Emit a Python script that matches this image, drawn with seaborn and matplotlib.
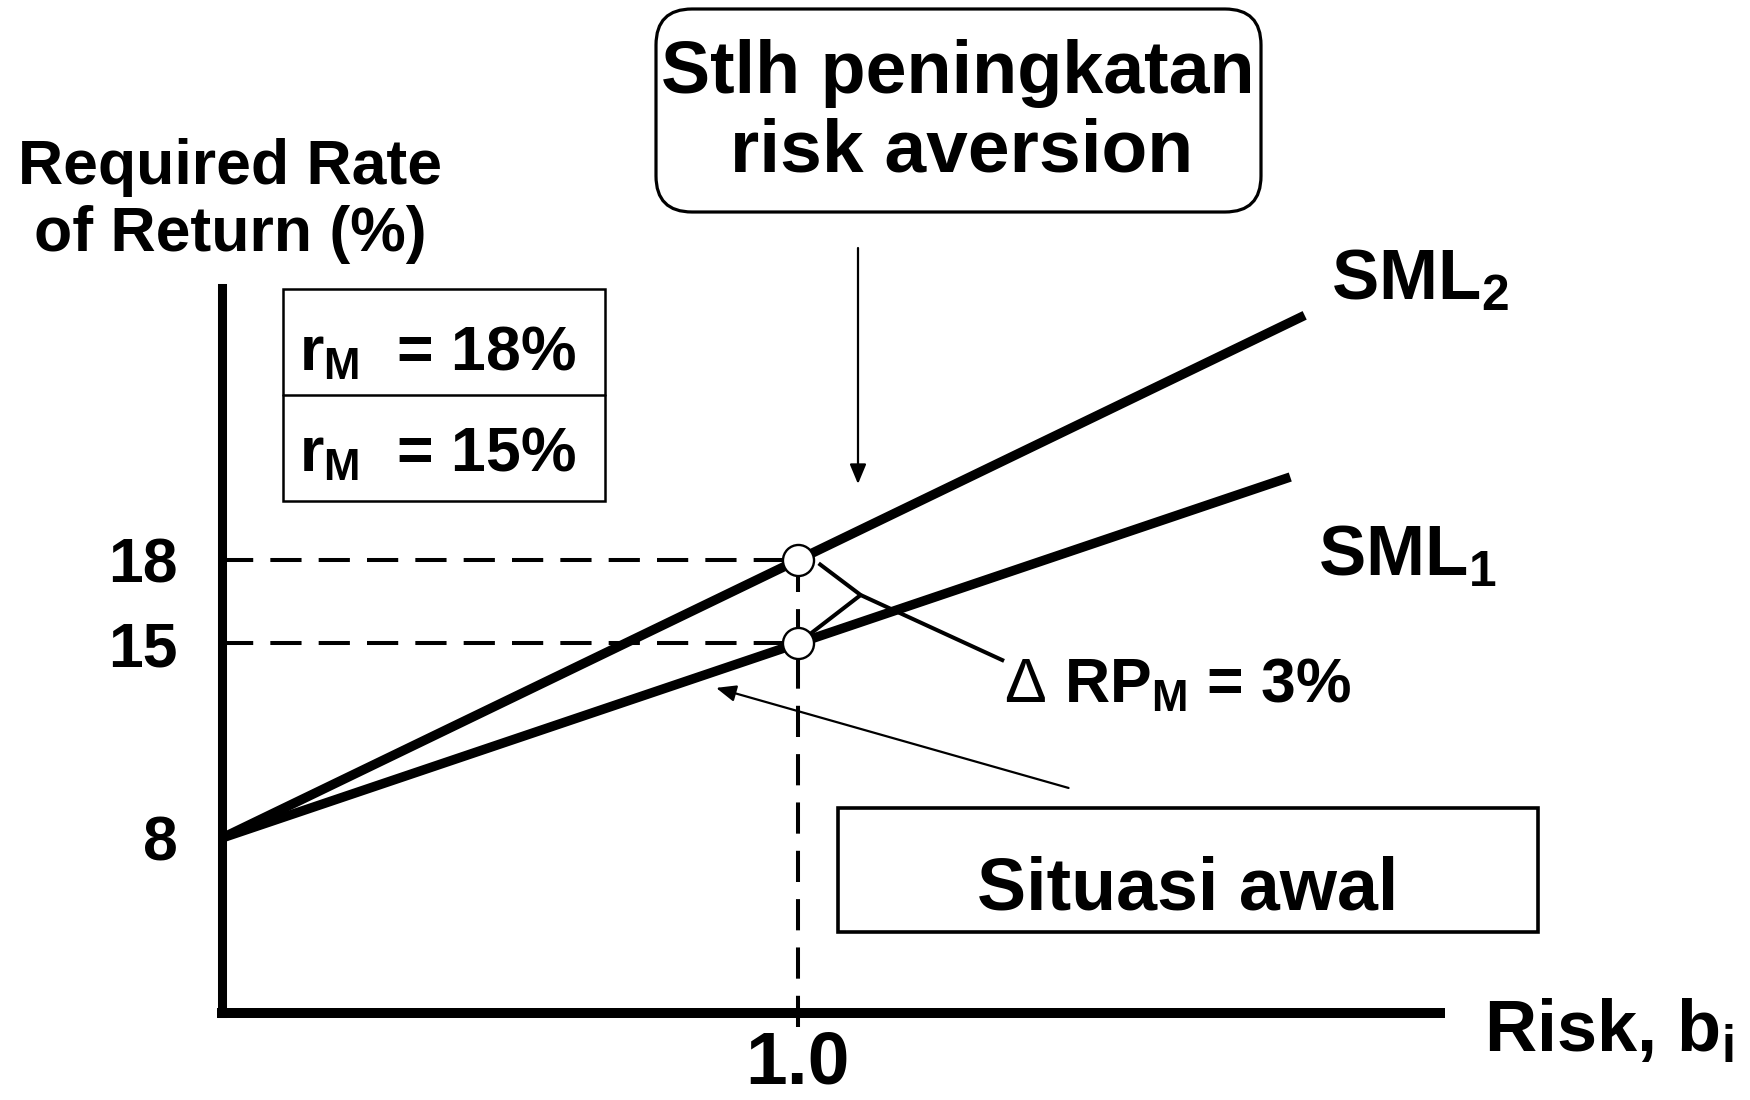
import matplotlib
matplotlib.use("Agg")
import matplotlib.pyplot as plt
from matplotlib.patches import FancyBboxPatch, Rectangle
from matplotlib.lines import Line2D
import seaborn as sns
import pandas as pd

# ---- values -------------------------------------------------------------
risk_free = 8                      # r_RF (%)
market_beta = 1.0                  # beta of the market portfolio
sml_names = ["SML1", "SML2"]       # before / after the rise in risk aversion
market_returns = [15, 18]          # r_M on each line (%)
line_end_beta = [1.855, 1.88]      # how far each line is drawn
y_ticks = [8, 15, 18]
x_ticks = [1.0]
x_tick_labels = ["1.0"]
delta_rp = market_returns[1] - market_returns[0]

# ---- style --------------------------------------------------------------
sns.set_theme(style="white")
plt.rcParams["font.family"] = ["Liberation Sans", "DejaVu Sans"]
plt.rcParams["font.weight"] = "bold"
plt.rcParams["text.color"] = "black"
plt.rcParams["axes.labelcolor"] = "black"
plt.rcParams["xtick.color"] = "black"
plt.rcParams["ytick.color"] = "black"
plt.rcParams["mathtext.fontset"] = "custom"
plt.rcParams["mathtext.rm"] = "Liberation Sans:bold"
plt.rcParams["mathtext.it"] = "Liberation Sans:bold"
plt.rcParams["mathtext.bf"] = "Liberation Sans:bold"

W, H = 1750, 1100
fig = plt.figure(figsize=(W / 100, H / 100), dpi=100)
fig.patch.set_facecolor("white")
ax = fig.add_axes([222 / W, 1 - 1013 / H, (1440 - 222) / W, (1013 - 288) / H])
ax.set_facecolor("white")


def P(px, py):
    """pixel position (from top-left) -> inches for fig.dpi_scale_trans"""
    return px / 100, (H - py) / 100


T = fig.dpi_scale_trans

# ---- security market lines ---------------------------------------------
rows = []
for name, rm, b_end in zip(sml_names, market_returns, line_end_beta):
    for b in (0.0, b_end):
        rows.append({"line": name, "beta": b,
                     "ret": risk_free + (rm - risk_free) * b})
sml = pd.DataFrame(rows)

sns.lineplot(data=sml, x="beta", y="ret", hue="line", units="line",
             estimator=None, palette=["black", "black"], linewidth=6.8,
             legend=False, ax=ax, zorder=4)
for ln in ax.lines:
    ln.set_solid_capstyle("butt")

# dashed guides to the market points
dash = (0, (7.75, 4.25))
for rm in market_returns:
    ax.plot([0, market_beta], [rm, rm], color="black", lw=2.9,
            linestyle=dash, zorder=2)
ax.plot([market_beta, market_beta], [1.2, max(market_returns)],
        color="black", lw=2.9, linestyle=dash, zorder=2, clip_on=False)

# market points
pts = pd.DataFrame({"beta": [market_beta] * len(market_returns),
                    "ret": market_returns})
sns.scatterplot(data=pts, x="beta", y="ret", s=500, color="white",
                edgecolor="black", linewidth=1.7, zorder=6, ax=ax,
                legend=False)

# bracket joining the two market points to the risk-premium label
junction = (1.109, 16.74)
ax.plot([1.036, junction[0], 1.022], [17.88, junction[1], 15.35],
        color="black", lw=2.9, zorder=5, solid_capstyle="butt")
ax.plot([junction[0], 1.358], [junction[1], 14.37],
        color="black", lw=2.9, zorder=5, solid_capstyle="butt")

# arrow pointing at the original line
ax.annotate("", xy=(0.858, 13.4), xytext=(1.47, 9.8),
            arrowprops=dict(arrowstyle="-|>,head_length=0.6,head_width=0.25",
                            color="black", lw=1.6, mutation_scale=20,
                            shrinkA=0, shrinkB=0), zorder=5)

# ---- axes ---------------------------------------------------------------
ax.set_xlim(0, 2.115)
ax.set_ylim(1.705, 27.784)
ax.set_xticks(x_ticks)
ax.set_xticklabels(x_tick_labels)
ax.set_yticks(y_ticks)
ax.set_yticklabels([str(v) for v in y_ticks])
ax.tick_params(axis="x", length=0, labelsize=54, pad=12, colors="black")
ax.tick_params(axis="y", length=0, labelsize=45, pad=32, colors="black")
for lab in ax.get_xticklabels() + ax.get_yticklabels():
    lab.set_fontweight("bold")
    lab.set_color("black")
ax.set_xlabel("")
ax.set_ylabel("")
ax.grid(False)
sns.despine(ax=ax)
ax.spines["left"].set_linewidth(6.5)
ax.spines["bottom"].set_linewidth(7.2)
for s in ("left", "bottom"):
    ax.spines[s].set_color("black")
    ax.spines[s].set_capstyle("projecting")

# ---- labels and boxes ---------------------------------------------------
fig.text(*P(230, 184), "Required Rate", transform=T, ha="center",
         va="baseline", fontsize=45, fontweight="bold")
fig.text(*P(230, 251), "of Return (%)", transform=T, ha="center",
         va="baseline", fontsize=45, fontweight="bold")

# rounded note box at the top
x0, y0 = P(656, 212)
x1, y1 = P(1261, 9)
fig.add_artist(FancyBboxPatch((x0, y0), x1 - x0, y1 - y0,
                              boxstyle="round,pad=0,rounding_size=0.36",
                              transform=T, fill=False, ec="black", lw=2.3))
fig.text(*P(958, 93), "Stlh peningkatan", transform=T, ha="center",
         va="baseline", fontsize=53, fontweight="bold")
fig.text(*P(962, 171), "risk aversion", transform=T, ha="center",
         va="baseline", fontsize=54, fontweight="bold")
ax.annotate("", xy=P(858, 484), xytext=P(858, 248), xycoords=T,
            textcoords=T,
            arrowprops=dict(arrowstyle="-|>,head_length=0.6,head_width=0.25",
                            color="black", lw=1.6, mutation_scale=20,
                            shrinkA=0, shrinkB=0))

# two-cell box with the market returns
bx0, by0 = P(283, 501)
bx1, by1 = P(605, 289)
fig.add_artist(Rectangle((bx0, by0), bx1 - bx0, by1 - by0, transform=T,
                         fill=False, ec="black", lw=1.8))
_, ymid = P(0, 395)
fig.add_artist(Line2D([bx0, bx1], [ymid, ymid], transform=T,
                      color="black", lw=1.8))
for rm, base in zip(market_returns[::-1], (370, 471)):
    fig.text(*P(299, base), r"r$_{\mathrm{M}}$  = " + f"{rm}%", transform=T,
             ha="left", va="baseline", fontsize=45, fontweight="bold")

# line names
fig.text(*P(1331, 300), r"SML$_{\mathrm{2}}$", transform=T, ha="left",
         va="baseline", fontsize=51, fontweight="bold")
fig.text(*P(1318, 576), r"SML$_{\mathrm{1}}$", transform=T, ha="left",
         va="baseline", fontsize=51, fontweight="bold")

# risk premium change
fig.text(*P(1004, 702), "Δ", transform=T, ha="left", va="baseline",
         fontsize=45, fontweight="normal")
fig.text(*P(1064, 702), "RP$_{\\mathrm{M}}$ = " + f"{delta_rp}%",
         transform=T, ha="left", va="baseline", fontsize=45,
         fontweight="bold")

# initial situation box
sx0, sy0 = P(838, 932)
sx1, sy1 = P(1538, 808)
fig.add_artist(Rectangle((sx0, sy0), sx1 - sx0, sy1 - sy0, transform=T,
                         fill=False, ec="black", lw=2.6))
fig.text(*P(1188, 910), "Situasi awal", transform=T, ha="center",
         va="baseline", fontsize=53, fontweight="bold")

# x-axis title
fig.text(*P(1484, 1052), r"Risk, b$_{\mathrm{i}}$", transform=T, ha="left",
         va="baseline", fontsize=52, fontweight="bold")

fig.savefig("out.png", dpi=100, facecolor="white")
